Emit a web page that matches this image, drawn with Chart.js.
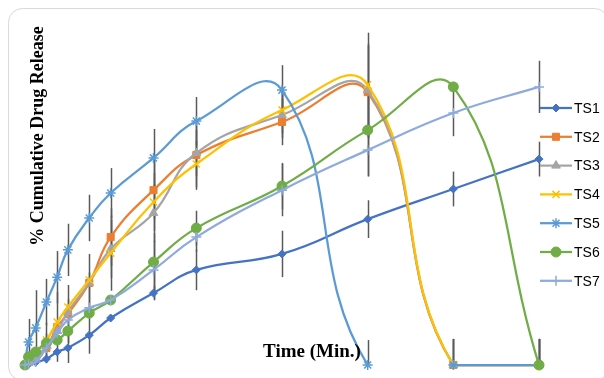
<!DOCTYPE html>
<html>
<head>
<meta charset="utf-8">
<script src="https://cdn.jsdelivr.net/npm/chart.js@4.4.1/dist/chart.umd.min.js"></script>
<style>
  html, body { margin: 0; padding: 0; background: #fff; }
  #wrap { width: 604px; height: 378px; position: relative; }
</style>
</head>
<body>
<div id="wrap"><canvas id="release" width="604" height="378"></canvas></div>
<script>
// time points (min)
const times = [0, 5, 15, 30, 45, 60, 90, 120, 180, 240, 360, 480, 600, 720];

// % cumulative drug release per formulation
const ts1 = [0, 0.3, 1, 2.1, 4.5, 5.9, 10.3, 16.2, 24.8, 32.8, 38.3, 50.3, 60.7, 71.0];
const ts2 = [0, 1, 2.8, 5.9, 13.1, 17.6, 28.3, 44.1, 60.3, 72.4, 83.8, 94.1, 0, 0];
const ts3 = [0, 0.7, 2.4, 6.6, 11.7, 18.3, 28.3, 40, 52.4, 73.1, 86.2, 94.8, 0, 0];
const ts4 = [0, 1.7, 4.5, 8.6, 14.8, 20, 29.3, 38.6, 56.2, 69.3, 87.9, 96.6, 0, 0];
const ts5 = [0, 7.9, 12.8, 21.7, 30.3, 39.7, 50.7, 59.3, 71.4, 84.1, 94.8, 0, 0, 0];
const ts6 = [0, 2.8, 4.5, 7.6, 8.6, 11.7, 17.9, 22.4, 35.5, 47.2, 61.7, 81, 95.9, 0];
const ts7 = [0, 0.3, 1, 5.9, 11, 15.5, 19.7, 22.4, 32.8, 44.1, 60.3, 74.1, 86.9, 95.9];

// error bar half-lengths (SD, %)
const err1 = [0, 0, 0, 0, 0, 0, 0, 0, 2.5, 7, 8, 6.5, 6, 6];
const err2 = [0, 0, 0, 5, 12, 10, 10, 10, 10, 12, 8, 16, 9, 9];
const err3 = [0, 0, 0, 0, 0, 0, 0, 10, 10, 8, 8, 16, 9, 9];
const err4 = [0, 0, 0, 0, 0, 0, 0, 13, 10, 8, 8, 18, 9, 9];
const err5 = [0, 8, 13, 8, 9, 9, 8, 8.6, 10, 8.3, 8.6, 8.6, 0, 0];
const err6 = [0, 0, 0, 7, 0, 11, 14, 0, 10, 6, 8, 16, 0, 9];
const err7 = [0, 0, 0, 0, 0, 0, 0, 0, 10, 5, 9, 9, 8, 9];

const seriesNames = ['TS1', 'TS2', 'TS3', 'TS4', 'TS5', 'TS6', 'TS7'];
const seriesValues = [ts1, ts2, ts3, ts4, ts5, ts6, ts7];
const seriesErrors = [err1, err2, err3, err4, err5, err6, err7];
const seriesColors = ['#4472C4', '#ED7D31', '#A5A5A5', '#FFC000', '#5B9BD5', '#70AD47', '#8FAADC'];
const seriesPoints = ['rectRot', 'rect', 'triangle', 'crossRot', 'star', 'circle', 'cross'];
const seriesRadius = [4, 5, 5, 5, 5, 5, 5];
// TS5 has no line between 480 and 600 min in the original
const hiddenSegment = { TS5: 11 };

function toPoints(vals) {
    return times.map((t, i) => ({ x: t, y: vals[i] }));
}

const datasets = seriesNames.map((name, i) => ({
    label: name,
    data: toPoints(seriesValues[i]),
    errors: seriesErrors[i],
    borderColor: seriesColors[i],
    backgroundColor: seriesColors[i],
    pointStyle: seriesPoints[i],
    pointRadius: seriesRadius[i],
    pointBorderWidth: (seriesPoints[i] === 'crossRot' || seriesPoints[i] === 'star' || seriesPoints[i] === 'cross') ? 1.5 : 1,
    borderWidth: 2.25,
    tension: 0.45,
    clip: false,
    order: seriesNames.length - i, // later series on top, like the original
    segment: {
        borderColor: ctx => (hiddenSegment[name] === ctx.p0DataIndex ? 'rgba(0,0,0,0)' : undefined)
    }
}));

// white background + rounded frame
const framePlugin = {
    id: 'frame',
    beforeDraw(chart) {
        const ctx = chart.ctx;
        ctx.save();
        ctx.fillStyle = '#fff';
        ctx.fillRect(0, 0, chart.width, chart.height);
        ctx.strokeStyle = '#d9d9d9';
        ctx.lineWidth = 1;
        ctx.beginPath();
        ctx.roundRect(8.5, 8.5, 600, 372, 14);
        ctx.stroke();
        ctx.restore();
    }
};

// vertical error bars, behind the lines
const errorBarPlugin = {
    id: 'errorBars',
    beforeDatasetsDraw(chart) {
        const ctx = chart.ctx;
        const area = chart.chartArea;
        const y = chart.scales.y;
        ctx.save();
        ctx.beginPath();
        ctx.rect(area.left, area.top - 40, area.right - area.left + 2, area.bottom - area.top + 40);
        ctx.clip();
        ctx.strokeStyle = '#595959';
        ctx.lineWidth = 1.5;
        chart.data.datasets.forEach((ds, di) => {
            const meta = chart.getDatasetMeta(di);
            meta.data.forEach((pt, i) => {
                const v = ds.data[i].y;
                const e = ds.errors[i];
                if (v === null || !e) return;
                ctx.beginPath();
                ctx.moveTo(Math.round(pt.x) + 0.5, y.getPixelForValue(v + e));
                ctx.lineTo(Math.round(pt.x) + 0.5, y.getPixelForValue(v - e));
                ctx.stroke();
            });
        });
        ctx.restore();
    }
};

// axis titles and line+marker legend
const labelsPlugin = {
    id: 'labels',
    afterDraw(chart) {
        const ctx = chart.ctx;
        ctx.save();
        ctx.fillStyle = '#000';
        ctx.textAlign = 'center';
        ctx.textBaseline = 'middle';
        ctx.save();
        ctx.font = 'bold 18px "Liberation Serif", "Times New Roman", serif';
        ctx.translate(38, 136);
        ctx.rotate(-Math.PI / 2);
        ctx.fillText('% Cumulative Drug Release', 0, 0);
        ctx.restore();
        ctx.font = 'bold 19px "Liberation Serif", "Times New Roman", serif';
        ctx.fillText('Time (Min.)', 312, 352);

        const x0 = 540, x1 = 572;
        chart.data.datasets.forEach((ds, i) => {
            const ly = 108 + i * 28.8;
            ctx.strokeStyle = ds.borderColor;
            ctx.lineWidth = 2.25;
            ctx.beginPath();
            ctx.moveTo(x0, ly);
            ctx.lineTo(x1, ly);
            ctx.stroke();
            ctx.fillStyle = ds.backgroundColor;
            ctx.lineWidth = ds.pointBorderWidth;
            if (Chart.helpers && Chart.helpers.drawPoint) {
                Chart.helpers.drawPoint(ctx, {
                    pointStyle: ds.pointStyle,
                    radius: ds.pointRadius,
                    borderWidth: ds.pointBorderWidth,
                    rotation: 0
                }, (x0 + x1) / 2, ly);
            }
            ctx.fillStyle = '#000';
            ctx.font = '14px "Liberation Sans", Arial, sans-serif';
            ctx.textAlign = 'left';
            ctx.fillText(ds.label, x1 + 2, ly + 1);
        });
        ctx.restore();
    }
};

new Chart(document.getElementById('release'), {
    type: 'line',
    data: { datasets: datasets },
    options: {
        responsive: false,
        animation: false,
        events: [],
        layout: { padding: { left: 25, right: 65, top: 46, bottom: 13 } },
        elements: { line: { capBezierPoints: true } },
        plugins: {
            legend: { display: false },
            tooltip: { enabled: false }
        },
        scales: {
            x: { type: 'linear', min: 0, max: 720, display: false },
            y: { min: 0, max: 110, display: false }
        }
    },
    plugins: [framePlugin, errorBarPlugin, labelsPlugin]
});
</script>
</body>
</html>
